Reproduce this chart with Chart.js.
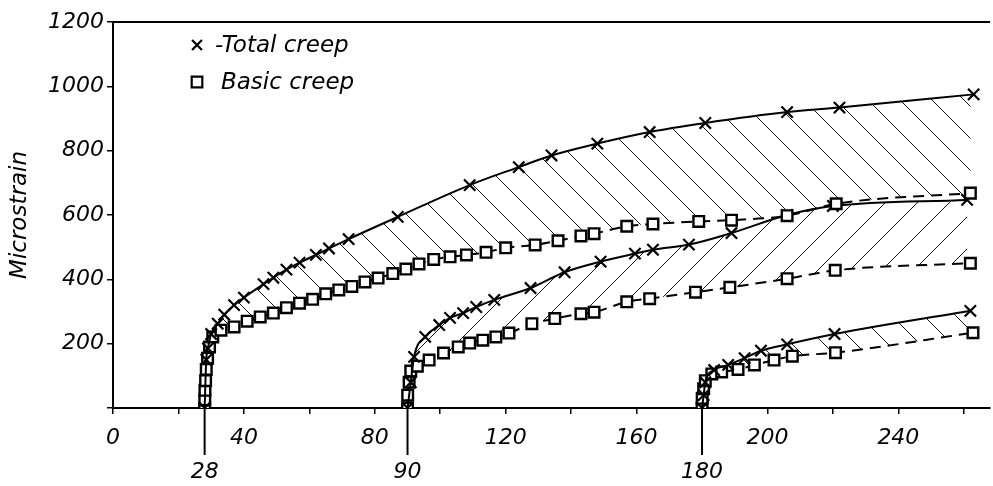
<!DOCTYPE html>
<html>
<head>
<meta charset="utf-8">
<title>Total and basic creep</title>
<script src="https://cdn.jsdelivr.net/npm/chart.js@4.4.1/dist/chart.umd.min.js"></script>
<style>
  html, body { margin: 0; padding: 0; background: #fff; }
  #wrap { position: relative; width: 993px; height: 486px; }
</style>
</head>
<body>
<div id="wrap"><canvas id="creepChart"></canvas></div>
<script>
// Loading ages (days) where each pair of curves starts
const loadAges = [28, 90, 180];

// Loaded at 28 days
const totalDays28 = [28, 28.5, 29, 30, 32, 34, 37, 40, 46, 49, 53, 57, 62, 66, 72, 87, 109, 124, 134, 148, 164, 181, 206, 222, 263];
const totalStrain28 = [0, 150, 185, 230, 262, 290, 320, 343, 385, 405, 430, 452, 476, 496, 525, 594, 693, 749, 785, 822, 858, 886, 920, 934, 975];
const basicDays28 = [28, 28.05, 28.1, 28.3, 28.5, 28.9, 29.5, 30.5, 33, 37, 41, 45, 49, 53, 57, 61, 65, 69, 73, 77, 81, 85.5, 89.5, 93.5, 98, 103, 108, 114, 120, 129, 136, 143, 147, 157, 165, 179, 189, 206, 221, 262];
const basicStrain28 = [0, 25, 55, 85, 120, 155, 190, 221, 242, 252, 270, 283, 295, 312, 326, 338, 355, 367, 378, 392, 404, 418, 432, 448, 462, 470, 476, 484, 498, 507, 520, 535, 542, 565, 572, 580, 584, 598, 635, 668];

// Loaded at 90 days
const totalDays90 = [90, 91, 92, 95.4, 99.7, 103, 107, 111, 116.5, 127.6, 138, 149, 159.5, 165, 176, 189, 206, 220, 261];
const totalStrain90 = [0, 80, 159, 221, 258, 280, 295, 314, 336, 373, 422, 455, 480, 492, 508, 544, 600, 628, 647];
const basicDays90 = [90, 90.05, 90.5, 91, 93, 96.6, 101, 105.5, 109, 113, 117, 121, 128, 135, 143, 147, 157, 164, 178, 188.5, 206, 220.7, 262];
const basicStrain90 = [0, 40, 80, 115, 130, 149, 171, 190, 202, 211, 221, 233, 262, 278, 293, 298, 330, 340, 360, 375, 402, 428, 450];

// Loaded at 180 days
const totalDays180 = [180, 180.5, 181, 183.7, 188, 193, 198, 206, 220.5, 262];
const totalStrain180 = [0, 40, 80, 118, 134, 155, 178, 198, 230, 302];
const basicDays180 = [180, 180.05, 180.5, 181, 183, 186, 191, 196, 202, 207.6, 220.8, 262.8];
const basicStrain180 = [0, 30, 60, 85, 106, 112, 120, 134, 149, 161, 172, 234];

const legendLabels = ["-Total creep", "Basic creep"];

const FONT = "'DejaVu Sans', sans-serif";

function toPoints(xs, ys) {
    return xs.map((x, i) => ({ x: x, y: ys[i] }));
}

// hatch pattern for the area between total and basic creep
function makeHatch(ctx, forward) {
    const size = 32;
    const c = document.createElement("canvas");
    c.width = size;
    c.height = size;
    const g = c.getContext("2d");
    g.strokeStyle = "#111";
    g.lineWidth = 1;
    g.beginPath();
    for (let k = -size; k <= size; k += size) {
        if (forward) {
            g.moveTo(k + size, 0);
            g.lineTo(k, size);
        } else {
            g.moveTo(k, 0);
            g.lineTo(k + size, size);
        }
    }
    g.stroke();
    return ctx.createPattern(c, "repeat");
}

const canvas = document.getElementById("creepChart");
const ctx = canvas.getContext("2d");
const hatchBack = makeHatch(ctx, false);
const hatchFwd = makeHatch(ctx, true);

function totalSet(xs, ys, target, pattern) {
    return {
        data: toPoints(xs, ys),
        borderColor: "#000",
        borderWidth: 2,
        cubicInterpolationMode: "monotone",
        pointStyle: "crossRot",
        pointRadius: 8,
        pointBorderWidth: 2.2,
        pointBorderColor: "#000",
        fill: { target: target, above: pattern, below: pattern },
    };
}

function basicSet(xs, ys) {
    return {
        data: toPoints(xs, ys),
        borderColor: "#000",
        borderWidth: 2,
        borderDash: [11, 7],
        cubicInterpolationMode: "monotone",
        pointStyle: "rect",
        pointRadius: 7.5,
        pointBorderWidth: 2.4,
        pointBorderColor: "#000",
        pointBackgroundColor: "#fff",
        fill: false,
    };
}

const decorPlugin = {
    id: "creepDecor",
    afterDraw(chart) {
        const { ctx, chartArea, scales } = chart;
        ctx.save();
        ctx.strokeStyle = "#000";
        ctx.fillStyle = "#000";

        // top frame line
        ctx.lineWidth = 2;
        ctx.beginPath();
        ctx.moveTo(chartArea.left, chartArea.top);
        ctx.lineTo(chartArea.right, chartArea.top);
        ctx.stroke();

        // loading ages below the axis
        ctx.font = "oblique 22px " + FONT;
        ctx.textAlign = "center";
        ctx.textBaseline = "middle";
        loadAges.forEach(function (age) {
            const x = scales.x.getPixelForValue(age);
            ctx.beginPath();
            ctx.moveTo(x, chartArea.bottom);
            ctx.lineTo(x, chartArea.bottom + 47);
            ctx.stroke();
            ctx.fillText(String(age), x, chartArea.bottom + 64);
        });

        // legend inside the plot
        const styles = ["crossRot", "rect"];
        const radii = [7, 7.5];
        ctx.textAlign = "left";
        ctx.font = "oblique 23px " + FONT;
        legendLabels.forEach(function (label, i) {
            const y = 45 + i * 37;
            ctx.fillStyle = "#fff";
            ctx.lineWidth = 2.2;
            Chart.helpers.drawPoint(ctx, { pointStyle: styles[i], radius: radii[i], borderWidth: 2.2, rotation: 0 }, 197, y);
            ctx.fillStyle = "#000";
            ctx.fillText(label, i === 0 ? 215 : 221, y + 1);
        });
        ctx.restore();
    },
};

new Chart(ctx, {
    type: "line",
    data: {
        datasets: [
            totalSet(totalDays28, totalStrain28, 1, hatchBack),
            basicSet(basicDays28, basicStrain28),
            totalSet(totalDays90, totalStrain90, 3, hatchFwd),
            basicSet(basicDays90, basicStrain90),
            totalSet(totalDays180, totalStrain180, 5, hatchBack),
            basicSet(basicDays180, basicStrain180),
        ],
    },
    options: {
        responsive: true,
        maintainAspectRatio: false,
        animation: false,
        layout: { autoPadding: false, padding: { top: 22, right: 3, left: 0, bottom: 0 } },
        plugins: {
            legend: { display: false },
            tooltip: { enabled: false },
            filler: { drawTime: "beforeDatasetsDraw" },
        },
        scales: {
            x: {
                type: "linear",
                min: 0,
                max: 268,
                ticks: {
                    stepSize: 20,
                    includeBounds: false,
                    autoSkip: false,
                    maxRotation: 0,
                    padding: 11,
                    color: "#000",
                    font: { family: FONT, size: 22, style: "oblique" },
                    callback: v => (v % 40 === 0 ? v : ""),
                },
                grid: { drawOnChartArea: false, drawTicks: true, tickLength: 6, color: "#000", lineWidth: 1.5 },
                border: { color: "#000", width: 2 },
                afterFit: function (scale) {
                    scale.height = 78;
                    scale.paddingRight = 0;
                },
            },
            y: {
                min: 0,
                max: 1200,
                ticks: {
                    stepSize: 200,
                    padding: 3,
                    color: "#000",
                    font: { family: FONT, size: 22, style: "oblique" },
                    callback: v => (v === 0 ? "" : v),
                },
                grid: { drawOnChartArea: false, drawTicks: true, tickLength: 6, color: "#000", lineWidth: 1.5 },
                border: { color: "#000", width: 2 },
                title: {
                    display: true,
                    text: "Microstrain",
                    color: "#000",
                    padding: { top: 6, bottom: 0 },
                    font: { family: FONT, size: 23, style: "oblique", weight: "normal" },
                },
                afterFit: function (scale) { scale.width = 113; },
            },
        },
    },
    plugins: [decorPlugin],
});
</script>
</body>
</html>
